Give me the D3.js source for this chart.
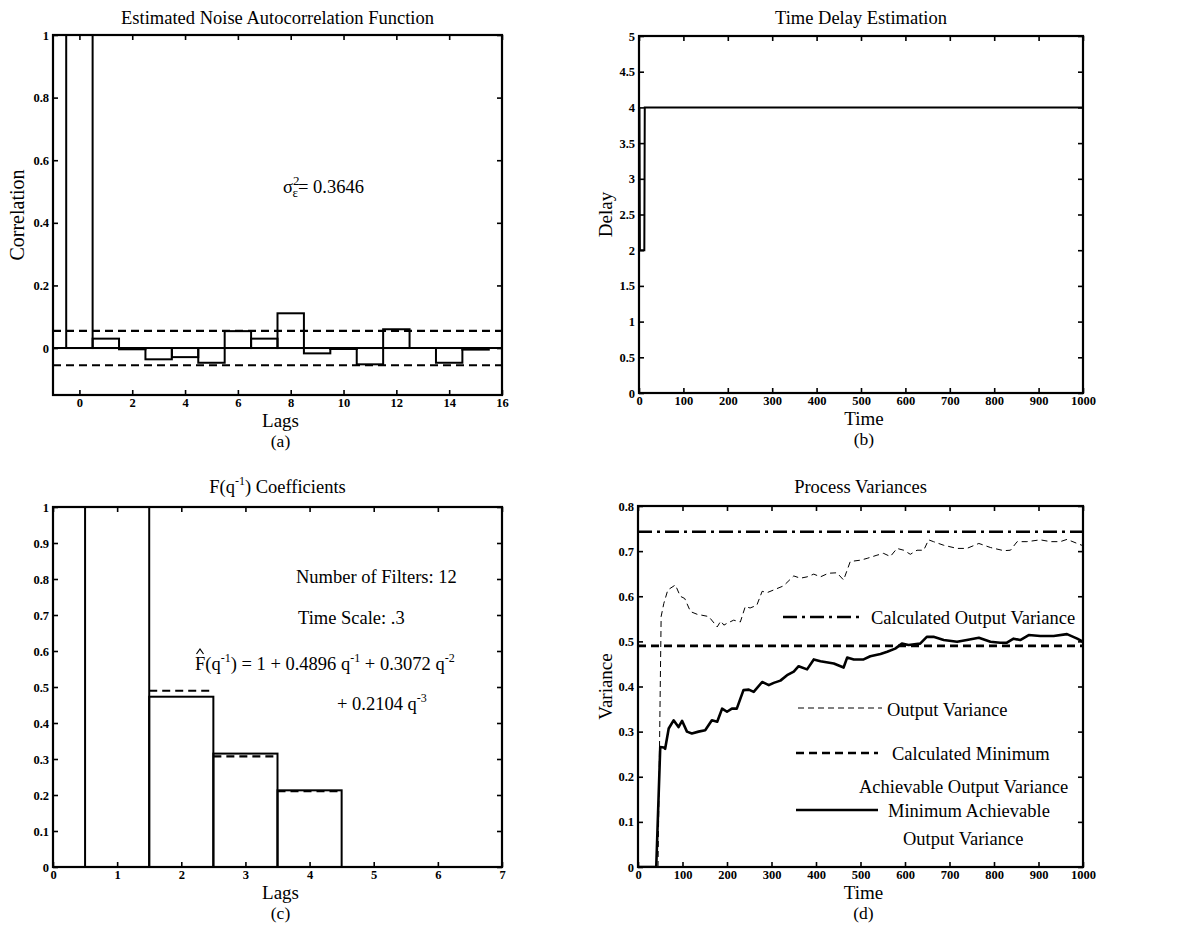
<!DOCTYPE html>
<html><head><meta charset="utf-8">
<script src="https://cdn.jsdelivr.net/npm/d3@7"></script>
<style>
html,body{margin:0;padding:0;background:#fff;}
svg{display:block;font-family:"Liberation Serif","Times New Roman",serif;}
</style></head>
<body>
<svg id="chart" width="1177" height="931"></svg>
<script>
// ---------- Data ----------
// (a) noise autocorrelation
const acfLags = [0,1,2,3,4,5,6,7,8,9,10,11,12,13,14,15];
const acfValues = [1,0.030,-0.004,-0.036,-0.029,-0.047,0.054,0.030,0.111,-0.017,-0.003,-0.052,0.060,0.000,-0.047,-0.005];
const acfBound = 0.055;
const acfXTicks = [0,2,4,6,8,10,12,14,16];
const acfYTicks = [0,0.2,0.4,0.6,0.8,1];

// (b) time delay estimation
const delayTime = [1,2,12,13,1000];
const delayValue = [4,2,2,4,4];
const delayXTicks = [0,100,200,300,400,500,600,700,800,900,1000];
const delayYTicks = [0,0.5,1,1.5,2,2.5,3,3.5,4,4.5,5];

// (c) F(q^-1) coefficients
const fLags = [1,2,3,4,5,6];
const fValues = [1,0.473,0.315,0.213,0,0];
const fHatLags = [2,3,4];
const fHatValues = [0.4896,0.3072,0.2104];
const fXTicks = [0,1,2,3,4,5,6,7];
const fYTicks = [0,0.1,0.2,0.3,0.4,0.5,0.6,0.7,0.8,0.9,1];

// (d) process variances
const calcOutputVar = 0.743;
const calcMinVar = 0.490;
const outVarTime = [45,52,58,67,84,95,105,118,133,159,178,186,193,200,215,230,241,252,267,279,290,305,327,350,365,380,395,410,428,447,462,477,500,515,537,552,567,582,597,612,627,642,653,664,687,717,739,766,792,822,837,852,874,904,927,949,964,987,1000];
const outVarValue = [0,0.555,0.584,0.614,0.625,0.60,0.595,0.566,0.56,0.555,0.532,0.545,0.536,0.54,0.547,0.543,0.577,0.574,0.58,0.611,0.608,0.614,0.623,0.645,0.64,0.643,0.649,0.643,0.651,0.652,0.636,0.677,0.68,0.684,0.691,0.695,0.688,0.706,0.702,0.693,0.702,0.702,0.725,0.721,0.713,0.706,0.706,0.717,0.708,0.701,0.702,0.721,0.721,0.725,0.721,0.721,0.726,0.717,0.712];
const minVarTime = [0,41,50,58,61,69,80,91,99,110,121,136,151,166,178,189,200,211,222,237,249,260,279,294,305,320,335,350,361,380,395,410,440,462,470,485,507,522,545,560,578,593,608,634,649,664,687,717,739,766,792,814,829,844,859,878,904,934,964,987,1000];
const minVarValue = [0,0,0.266,0.265,0.262,0.307,0.325,0.31,0.324,0.30,0.296,0.30,0.303,0.325,0.322,0.351,0.344,0.351,0.351,0.392,0.393,0.388,0.41,0.403,0.408,0.413,0.425,0.433,0.445,0.438,0.46,0.456,0.451,0.442,0.464,0.46,0.46,0.467,0.472,0.477,0.484,0.495,0.492,0.495,0.51,0.51,0.503,0.499,0.503,0.508,0.499,0.497,0.497,0.506,0.503,0.514,0.512,0.512,0.516,0.506,0.499];
const varXTicks = [0,100,200,300,400,500,600,700,800,900,1000];
const varYTicks = [0,0.1,0.2,0.3,0.4,0.5,0.6,0.7,0.8];

// ---------- Drawing ----------
const svg = d3.select("#chart");
svg.append("rect").attr("width",1177).attr("height",931).attr("fill","#fff");
const FS = "18.5px";

function panel(o){
  const x = d3.scaleLinear().domain(o.xd).range([o.l,o.r]);
  const y = d3.scaleLinear().domain(o.yd).range([o.b,o.t]);
  const g = svg.append("g");
  const fmt = v => d3.format("~g")(+v.toFixed(4));
  const ax = (gen, tr) => {
    const a = g.append("g").attr("transform",tr).call(gen);
    a.attr("font-size",null).attr("font-family",null);
    a.select(".domain").remove();
    a.selectAll(".tick line").attr("stroke","#000").attr("stroke-width",1.6);
    a.selectAll("text").style("font-size","12.5px").style("font-weight","bold")
      .style("font-family","'Liberation Serif', serif").attr("fill","#000");
    return a;
  };
  ax(d3.axisBottom(x).tickValues(o.xt).tickSize(-5).tickPadding(3).tickFormat(fmt), `translate(0,${o.b})`);
  ax(d3.axisTop(x).tickValues(o.xt).tickSize(-5).tickFormat(""), `translate(0,${o.t})`);
  ax(d3.axisLeft(y).tickValues(o.yt).tickSize(-5).tickPadding(4).tickFormat(fmt), `translate(${o.l},0)`);
  ax(d3.axisRight(y).tickValues(o.yt).tickSize(-5).tickFormat(""), `translate(${o.r},0)`);
  const clipId = "clip"+o.sub.replace(/[()]/g,"");
  svg.append("clipPath").attr("id",clipId).append("rect")
    .attr("x",o.l).attr("y",o.t).attr("width",o.r-o.l).attr("height",o.b-o.t);
  const plot = g.append("g").attr("clip-path",`url(#${clipId})`);
  const frame = () => g.append("rect").attr("x",o.l).attr("y",o.t).attr("width",o.r-o.l).attr("height",o.b-o.t)
    .attr("fill","none").attr("stroke","#000").attr("stroke-width",2.2);
  const cx = (o.l+o.r)/2;
  const title = g.append("text").attr("x",cx).attr("y",o.titleY).attr("text-anchor","middle").attr("font-size",FS);
  g.append("text").attr("x",cx+3).attr("y",o.b+32).attr("text-anchor","middle").attr("font-size","19px").text(o.xlabel);
  g.append("text").attr("x",cx+3).attr("y",o.b+52).attr("text-anchor","middle").attr("font-size","17.5px").text(o.sub);
  if(o.ylabel){
    g.append("text").attr("transform",`translate(${o.ylx},${(o.t+o.b)/2}) rotate(-90)`)
      .attr("text-anchor","middle").attr("dy","0.35em").attr("font-size",o.ylsize||"19px").text(o.ylabel);
  }
  return {x,y,g,plot,frame,title};
}

// ---- (a)
{
  const p = panel({l:53,r:502,t:35,b:395,xd:[-1,16],yd:[-0.15,1],xt:acfXTicks,yt:acfYTicks,
    titleY:24,xlabel:"Lags",sub:"(a)",ylabel:"Correlation",ylx:17,ylsize:"20px"});
  p.title.text("Estimated Noise Autocorrelation Function");
  p.plot.selectAll("rect.bar").data(acfLags).join("rect")
    .attr("x",d=>p.x(d-0.5)).attr("width",d=>p.x(d+0.5)-p.x(d-0.5))
    .attr("y",(d,i)=>p.y(Math.max(0,acfValues[i])))
    .attr("height",(d,i)=>Math.abs(p.y(acfValues[i])-p.y(0)))
    .attr("fill","none").attr("stroke","#000").attr("stroke-width",2);
  p.plot.append("line").attr("x1",p.x(-1)).attr("x2",p.x(16)).attr("y1",p.y(0)).attr("y2",p.y(0))
    .attr("stroke","#000").attr("stroke-width",2);
  [acfBound,-acfBound].forEach(v=>{
    p.plot.append("line").attr("x1",p.x(-1)).attr("x2",p.x(16)).attr("y1",p.y(v)).attr("y2",p.y(v))
      .attr("stroke","#000").attr("stroke-width",2.2).attr("stroke-dasharray","8,5");
  });
  p.frame();
  const t = p.g.append("text").attr("x",283).attr("y",193).attr("font-size",FS);
  t.append("tspan").text("σ");
  t.append("tspan").attr("font-size","13px").attr("dy",-8).text("2");
  t.append("tspan").attr("font-size","13px").attr("dx",-7).attr("dy",12).text("ε");
  t.append("tspan").attr("dy",-4).text("= 0.3646");
}

// ---- (b)
{
  const p = panel({l:639,r:1083,t:36,b:393,xd:[0,1000],yd:[0,5],xt:delayXTicks,yt:delayYTicks,
    titleY:24,xlabel:"Time",sub:"(b)",ylabel:"Delay",ylx:605});
  p.title.text("Time Delay Estimation");
  const line = d3.line().x((d,i)=>p.x(delayTime[i])).y(d=>p.y(d));
  p.plot.append("path").attr("d",line(delayValue)).attr("fill","none").attr("stroke","#000").attr("stroke-width",2);
  p.frame();
}

// ---- (c)
{
  const p = panel({l:53,r:502,t:507,b:867,xd:[0,7],yd:[0,1],xt:fXTicks,yt:fYTicks,
    titleY:493,xlabel:"Lags",sub:"(c)",ylabel:null});
  p.title.text("F(q").append("tspan").attr("font-size","12px").attr("dy",-8).text("-1");
  p.title.append("tspan").attr("dy",8).text(") Coefficients");
  p.plot.selectAll("rect.bar").data(fLags).join("rect")
    .attr("x",d=>p.x(d-0.5)).attr("width",d=>p.x(d+0.5)-p.x(d-0.5))
    .attr("y",(d,i)=>p.y(fValues[i])).attr("height",(d,i)=>p.y(0)-p.y(fValues[i]))
    .attr("fill","none").attr("stroke","#000").attr("stroke-width",2);
  p.plot.selectAll("line.hat").data(fHatLags).join("line")
    .attr("x1",d=>p.x(d-0.5)).attr("x2",d=>p.x(d+0.5))
    .attr("y1",(d,i)=>p.y(fHatValues[i])).attr("y2",(d,i)=>p.y(fHatValues[i]))
    .attr("stroke","#000").attr("stroke-width",2.2).attr("stroke-dasharray","8,5");
  p.frame();
  p.g.append("text").attr("x",296).attr("y",583).attr("font-size",FS).text("Number of Filters: 12");
  p.g.append("text").attr("x",298).attr("y",624).attr("font-size",FS).text("Time Scale: .3");
  const f = p.g.append("text").attr("x",195).attr("y",670).attr("font-size",FS);
  f.append("tspan").text("F(q");
  f.append("tspan").attr("font-size","12px").attr("dy",-8).text("-1");
  f.append("tspan").attr("dy",8).text(") = 1 + 0.4896 q");
  f.append("tspan").attr("font-size","12px").attr("dy",-8).text("-1");
  f.append("tspan").attr("dy",8).text("  + 0.3072 q");
  f.append("tspan").attr("font-size","12px").attr("dy",-8).text("-2");
  p.g.append("path").attr("d","M196.5,654 L200,649 L203.5,654").attr("fill","none").attr("stroke","#000").attr("stroke-width",1.2);
  const f2 = p.g.append("text").attr("x",337).attr("y",710).attr("font-size",FS);
  f2.append("tspan").text("+ 0.2104 q");
  f2.append("tspan").attr("font-size","12px").attr("dy",-8).text("-3");
}

// ---- (d)
{
  const p = panel({l:638,r:1083,t:506,b:867,xd:[0,1000],yd:[0,0.8],xt:varXTicks,yt:varYTicks,
    titleY:493,xlabel:"Time",sub:"(d)",ylabel:"Variance",ylx:605});
  p.title.text("Process Variances");
  const styles = {
    calcOut:{w:2.6,dash:"14,5,3,5"},
    outVar:{w:1,dash:"6,4"},
    calcMin:{w:2.6,dash:"8,5"},
    minVar:{w:2.6,dash:null}
  };
  const hline = (v,s)=>p.plot.append("line").attr("x1",p.x(0)).attr("x2",p.x(1000)).attr("y1",p.y(v)).attr("y2",p.y(v))
    .attr("stroke","#000").attr("stroke-width",s.w).attr("stroke-dasharray",s.dash);
  hline(calcOutputVar,styles.calcOut);
  hline(calcMinVar,styles.calcMin);
  const lo = d3.line().x((d,i)=>p.x(outVarTime[i])).y(d=>p.y(d));
  p.plot.append("path").attr("d",lo(outVarValue)).attr("fill","none").attr("stroke","#000")
    .attr("stroke-width",styles.outVar.w).attr("stroke-dasharray",styles.outVar.dash);
  const lm = d3.line().x((d,i)=>p.x(minVarTime[i])).y(d=>p.y(d));
  p.plot.append("path").attr("d",lm(minVarValue)).attr("fill","none").attr("stroke","#000")
    .attr("stroke-width",styles.minVar.w).attr("stroke-linejoin","round");
  p.frame();
  const leg = [
    {x1:783,x2:863,y:617,s:styles.calcOut,tx:871,ty:624,text:"Calculated Output Variance"},
    {x1:798,x2:882,y:708,s:styles.outVar,tx:887,ty:716,text:"Output Variance"},
    {x1:796,x2:878,y:753,s:styles.calcMin,tx:892,ty:760,text:"Calculated Minimum"},
    {x1:796,x2:878,y:810,s:styles.minVar,tx:888,ty:817,text:"Minimum Achievable"}
  ];
  leg.forEach(d=>{
    p.g.append("line").attr("x1",d.x1).attr("x2",d.x2).attr("y1",d.y).attr("y2",d.y)
      .attr("stroke","#000").attr("stroke-width",d.s.w).attr("stroke-dasharray",d.s.dash);
    p.g.append("text").attr("x",d.tx).attr("y",d.ty).attr("font-size",FS).text(d.text);
  });
  p.g.append("text").attr("x",859).attr("y",793).attr("font-size",FS).text("Achievable Output Variance");
  p.g.append("text").attr("x",903).attr("y",845).attr("font-size",FS).text("Output Variance");
}
</script>
</body></html>
